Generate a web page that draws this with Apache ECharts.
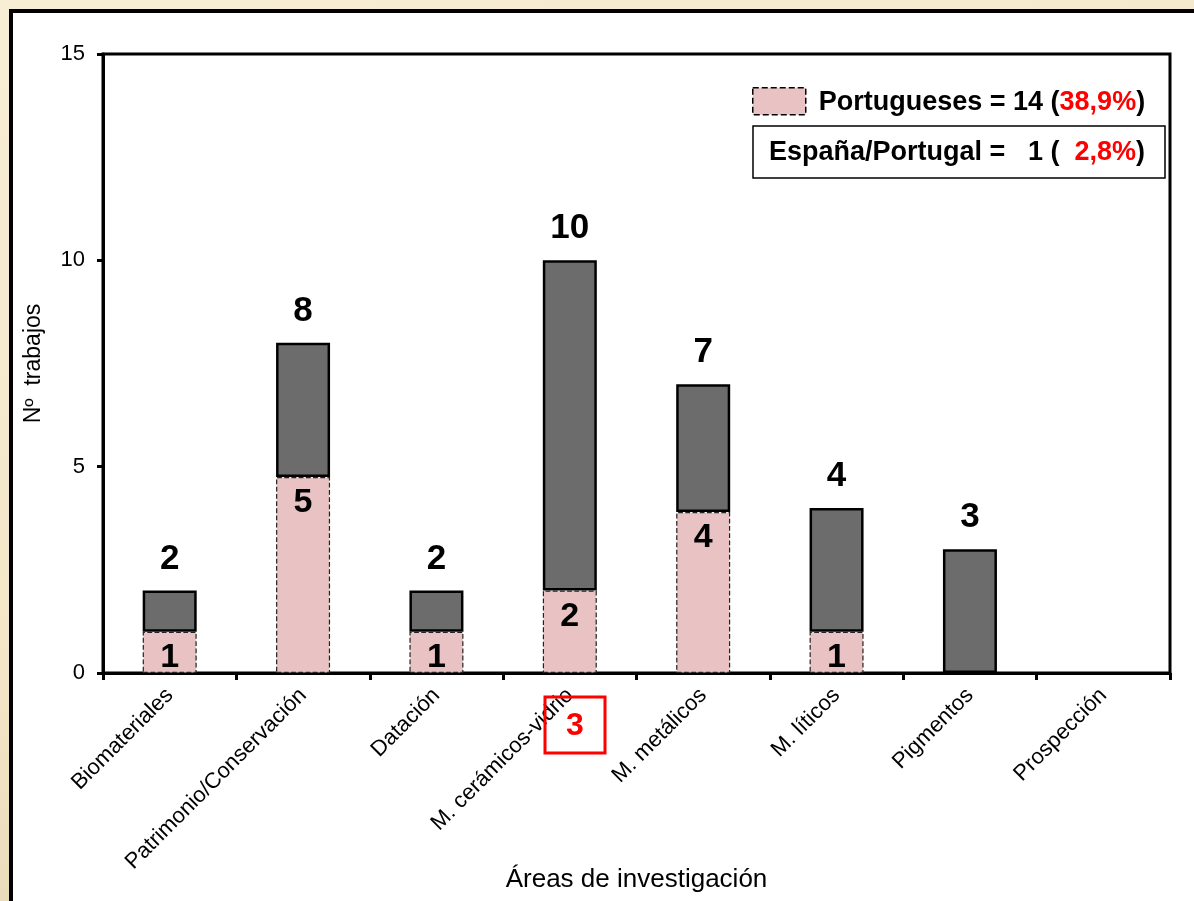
<!DOCTYPE html>
<html>
<head>
<meta charset="utf-8">
<script src="https://cdn.jsdelivr.net/npm/echarts@6/dist/echarts.min.js"></script>
<style>
  body { margin: 0; width: 1194px; height: 901px; overflow: hidden;
         background: linear-gradient(160deg, #f8eed6 0%, #f3e6c8 50%, #d8c9a3 100%); }
  #panel { position: absolute; left: 9px; top: 9px; width: 1200px; height: 900px;
           background: #fff; border: 4px solid #000; box-sizing: border-box; }
  #main { position: absolute; left: 0; top: 0; width: 1194px; height: 901px; }
</style>
</head>
<body>
<div id="panel"></div>
<div id="main"></div>
<script>
  // categories and values
  let areas = ['Biomateriales', 'Patrimonio/Conservación', 'Datación', 'M. cerámicos-vidrio',
               'M. metálicos', 'M. líticos', 'Pigmentos', 'Prospección'];
  let totals = [2, 8, 2, 10, 7, 4, 3, 0];
  let portugueses = [1, 4.75, 1, 2, 3.9, 1, 0, 0];
  let portuguesesLabels = [1, 5, 1, 2, 4, 1, 0, 0];
  let yTicks = [0, 5, 10, 15];

  // empty bars stay empty (no zero-height outline)
  let pinkData = portugueses.map((v) => v ? v : null);
  let rest = totals.map((t, i) => (t - portugueses[i]) ? t - portugueses[i] : null);

  let chart = echarts.init(document.getElementById('main'));
  const font = '"Liberation Sans", Arial, sans-serif';

  chart.setOption({
    backgroundColor: 'transparent',
    textStyle: { fontFamily: font, color: '#000' },
    animation: false,
    grid: {
      left: 103, top: 54, right: 24, bottom: 228,
      containLabel: false,
      outerBoundsMode: 'none',
      show: true, borderColor: '#000', borderWidth: 3, backgroundColor: 'transparent'
    },
    legend: {
      data: ['Portugueses'],
      left: 752, top: 87,
      padding: 0,
      icon: 'rect',
      itemWidth: 53, itemHeight: 27,
      itemStyle: { borderType: 'dashed', borderColor: '#000', borderWidth: 1.5 },
      formatter: () => '{p|Portugueses = 14 (}{b|38,9%}{a|)}',
      textStyle: {
        rich: {
          p: { fontSize: 27, fontWeight: 'bold', color: '#000', fontFamily: font, padding: [2, 0, 0, 8] },
          a: { fontSize: 27, fontWeight: 'bold', color: '#000', fontFamily: font, padding: [2, 0, 0, 0] },
          b: { fontSize: 27, fontWeight: 'bold', color: '#ff0000', fontFamily: font, padding: [2, 0, 0, 0] }
        }
      }
    },
    xAxis: {
      type: 'category',
      data: areas,
      axisLine: { lineStyle: { color: '#000', width: 3 } },
      axisTick: { show: true, length: 7, lineStyle: { color: '#000', width: 3 } },
      axisLabel: { rotate: 45, fontSize: 22, color: '#000', margin: 19, interval: 0 },
      name: 'Áreas de investigación',
      nameLocation: 'middle',
      nameGap: 194,
      nameMoveOverlap: false,
      nameTextStyle: { fontSize: 26, color: '#000' }
    },
    yAxis: {
      type: 'value',
      min: yTicks[0], max: yTicks[yTicks.length - 1], interval: 5,
      splitLine: { show: false },
      axisLine: { show: true, lineStyle: { color: '#000', width: 3 } },
      axisTick: { show: true, length: 6, lineStyle: { color: '#000', width: 3 } },
      axisLabel: { fontSize: 22, color: '#000', margin: 18 },
      name: 'Nº  trabajos',
      nameLocation: 'middle',
      nameGap: 58,
      nameMoveOverlap: false,
      nameRotate: 90,
      nameTextStyle: { fontSize: 23, color: '#000' }
    },
    series: [
      {
        name: 'Portugueses',
        type: 'bar',
        stack: 'total',
        barWidth: 54,
        z: 3,
        data: pinkData,
        itemStyle: { color: '#e9c3c3', borderColor: '#222', borderType: 'dashed', borderWidth: 1.2 },
        label: {
          show: true,
          position: 'insideTop',
          distance: 9,
          fontSize: 34,
          fontWeight: 'bold',
          color: '#000',
          formatter: (p) => portuguesesLabels[p.dataIndex] ? String(portuguesesLabels[p.dataIndex]) : ''
        }
      },
      {
        name: 'Resto',
        type: 'bar',
        stack: 'total',
        barWidth: 54,
        z: 2,
        data: rest,
        itemStyle: { color: '#6c6c6c', borderColor: '#000', borderWidth: 2.5 },
        label: {
          show: true,
          position: 'top',
          distance: 14,
          fontSize: 35,
          fontWeight: 'bold',
          color: '#000',
          formatter: (p) => totals[p.dataIndex] ? String(totals[p.dataIndex]) : ''
        }
      }
    ],
    graphic: [
      {
        type: 'rect',
        z: 100,
        shape: { x: 753, y: 126, width: 412, height: 52 },
        style: { fill: '#fff', stroke: '#000', lineWidth: 1.5 }
      },
      {
        type: 'text',
        z: 101,
        x: 957, y: 153,
        style: {
          text: '{a|España/Portugal =   1 (  }{b|2,8%}{a|)}',
          align: 'center', verticalAlign: 'middle',
          rich: {
            a: { fontSize: 27, fontWeight: 'bold', fill: '#000', fontFamily: font },
            b: { fontSize: 27, fontWeight: 'bold', fill: '#ff0000', fontFamily: font }
          }
        }
      },
      {
        type: 'rect',
        z: 100,
        shape: { x: 545, y: 697, width: 60, height: 56 },
        style: { fill: 'none', stroke: '#ff0000', lineWidth: 3 }
      },
      {
        type: 'text',
        z: 101,
        x: 575, y: 726,
        style: { text: '3', fontSize: 32, fontWeight: 'bold', fill: '#ff0000',
                 fontFamily: font, align: 'center', verticalAlign: 'middle' }
      }
    ]
  });
</script>
</body>
</html>
